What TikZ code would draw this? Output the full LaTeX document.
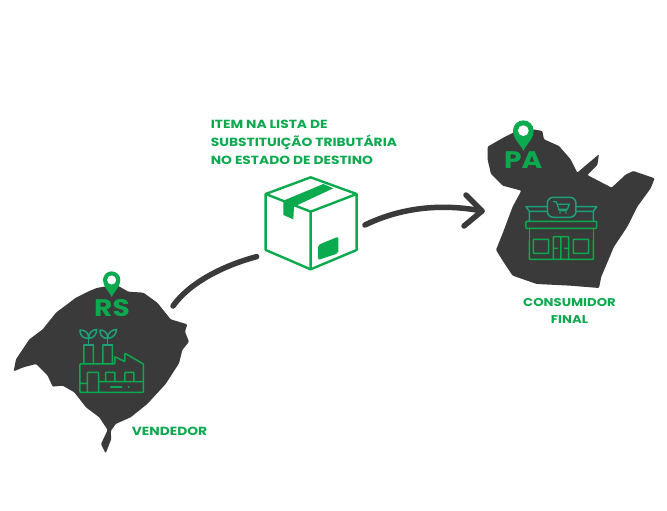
\documentclass[tikz,border=0pt]{standalone}
\usepackage{fontspec}
\setmainfont{Poppins}[FakeStretch=1.17]
\usetikzlibrary{arrows.meta,bending}
\definecolor{gr}{HTML}{0BAA4F}
\definecolor{tl}{HTML}{1BA27A}
\definecolor{mapc}{HTML}{3A3A3A}
\tikzset{
 mapshape/.style={fill=mapc,draw=none,rounded corners=1pt},
 ic/.style={draw=gr,line width=1.5pt,line join=round,line cap=round,rounded corners=0.6pt},
 ict/.style={draw=tl,line width=1.5pt,line join=round,line cap=round},
 lab/.style={text=gr,font=\bfseries,inner sep=0pt,align=center},
 flow/.style={draw=mapc,line width=5.5pt,line cap=round},
 zoomA/.style={shift={(0,260)},x=0.3333pt,y=-0.3333pt},
 zoomB/.style={shift={(470,110)},x=0.3333pt,y=-0.3333pt},
 zoomC/.style={shift={(200,110)},x=0.3333pt,y=-0.3333pt},
}
\newcommand{\pinmark}[3]{% x y R
 \fill[gr] (#1-#3,#2) arc[start angle=180,end angle=360,radius=#3] .. controls (#1+#3,#2+#3*0.8) and (#1+#3*0.3,#2+#3*1.3) .. (#1,#2+#3*1.95) .. controls (#1-#3*0.3,#2+#3*1.3) and (#1-#3,#2+#3*0.8) .. (#1-#3,#2) -- cycle;
 \fill[white] (#1,#2) circle[radius=#3*0.52];
}
\begin{document}
\begin{tikzpicture}[x=1pt,y=-1pt]
\useasboundingbox (0,0) rectangle (667,511);
\fill[white] (0,0) rectangle (667,511);
% RS
\begin{scope}[zoomA]
\fill[mapshape] (290,84)--(335,76)--(355,78)--(385,95)--(430,98)--(472,128)--(512,178)--(562,193)--(555,215)--(567,245)--(547,270)--(537,310)--(497,372)--(442,432)--(392,472)--(347,492)--(332,514)--(334,537)--(317,580)--(303,552)--(323,510)--(298,472)--(258,442)--(223,397)--(188,377)--(158,380)--(143,347)--(108,312)--(70,322)--(41,334)--(48,298)--(88,238)--(128,208)--(168,158)--(228,113)--(268,93)--cycle;
\pinmark{335}{60}{26}
% factory
\draw[ic] (240,397)--(240,312)--(345,312)--(345,290)--(375,305)--(375,280)--(430,312)--(430,397)--cycle;
\draw[ic] (252,312)--(252,255)--(280,255)--(280,312) (309,312)--(309,255)--(337,255)--(337,312);
\draw[ict] (252,255)--(280,255) (309,255)--(337,255);
\draw[ic] (240,370)--(262,370) (262,397)--(262,337)--(296,337)--(296,397);
\draw[ic] (317,362)--(317,337)--(345,337)--(345,362) (375,362)--(375,337)--(402,337)--(402,362) (296,365)--(430,365);
\draw[ic] (332,381)--(365,381) (385,381)--(387,381);
\draw[ict] (266,255)--(266,235) (323,255)--(323,235);
\draw[ict] (266,235) .. controls (242,235) and (240,220) .. (240,210) .. controls (258,210) and (266,220) .. (266,235) .. controls (266,220) and (274,210) .. (290,208) .. controls (290,222) and (282,235) .. (266,235);
\draw[ict] (323,235) .. controls (302,235) and (300,220) .. (300,210) .. controls (315,210) and (323,220) .. (323,235) .. controls (323,220) and (333,210) .. (350,208) .. controls (348,222) and (340,235) .. (323,235);
\node[lab,font=\bfseries\fontsize{24}{24}\selectfont] (rs) at (336,145) {RS};
\end{scope}
\node[lab,font=\bfseries\fontsize{11.8}{14}\selectfont] (vend) at (169.5,431) {VENDEDOR};
% PA
\begin{scope}[zoomB]
\fill[mapshape] (53,110)--(100,83)--(130,68)--(190,58)--(217,63)--(222,88)--(267,108)--(302,148)--(322,188)--(345,168)--(387,133)--(382,165)--(352,195)--(425,233)--(468,193)--(490,183)--(554,205)--(542,235)--(502,290)--(472,350)--(432,410)--(394,500)--(387,534)--(300,527)--(200,522)--(128,497)--(98,452)--(78,420)--(98,370)--(128,290)--(154,242)--(98,227)--(63,192)--(53,150)--cycle;
\pinmark{160}{62}{31}
\node[lab,font=\bfseries\fontsize{24}{24}\selectfont] (pa) at (160,150) {PA};
% store
\draw[ic] (168,334) rectangle (380,355);
\draw[ict] (232,290)--(168,290)--(178,304)--(178,334) (232,304)--(178,304) (318,290)--(380,290)--(370,304)--(370,334) (318,304)--(370,304);
\draw[ict,rounded corners=6pt] (232,262) rectangle (318,322);
\draw[ict,line width=1.2pt] (250,275)--(259,275)--(268,302)--(290,302) (262,283)--(298,283)--(292,298)--(268,298);
\fill[tl] (270,309) circle[radius=3] (288,309) circle[radius=3];
\draw[ic] (178,355)--(178,390) (370,355)--(370,390);
\draw[ic] (178,390)--(178,448)--(370,448)--(370,390);
\draw[ic] (250,448)--(250,380)--(296,380)--(296,448) (273,380)--(273,448) (255,415)--(262,415) (284,415)--(291,415);
\draw[ic] (190,388) rectangle (236,430);
\draw[ic] (310,388) rectangle (356,430);
\end{scope}
\node[lab,font=\bfseries\fontsize{11.3}{17.5}\selectfont] (cons) at (569.5,311) {CONSUMIDOR\\FINAL};
% box
\begin{scope}[zoomC,line join=round]
\draw[draw=gr,line width=2.4pt] (332,202)--(470,252)--(470,420)--(332,478)--(197,420)--(197,252)--cycle;
\draw[draw=gr,line width=2.4pt] (197,252)--(332,305)--(470,252) (332,305)--(332,478);
\fill[gr] (250,272)--(370,222)--(400,235)--(282,290)--(280,328)--(250,315)--cycle;
\fill[gr,rounded corners=2pt] (354,405)--(415,380)--(415,430)--(354,450)--cycle;
\node[lab,align=left,anchor=north west,font=\bfseries\fontsize{11.8}{18}\selectfont] (itemlab) at (32,30) {ITEM NA LISTA DE\\SUBSTITUIÇÃO TRIBUTÁRIA\\NO ESTADO DE DESTINO};
\coordinate (boxleft) at (170,440);
\coordinate (boxright) at (495,345);
\end{scope}
\coordinate (rsout) at (173,306);
\coordinate (paend) at (482,211);
\draw[flow] (rsout) .. controls (190,282) and (225,265) .. (boxleft);
\draw[flow] (boxright) .. controls (400,208) and (440,203) .. (paend);
\draw[draw=mapc,line width=5.5pt,line cap=round,line join=round] (466,195)--(482,211)--(464,226);
\end{tikzpicture}
\end{document}
